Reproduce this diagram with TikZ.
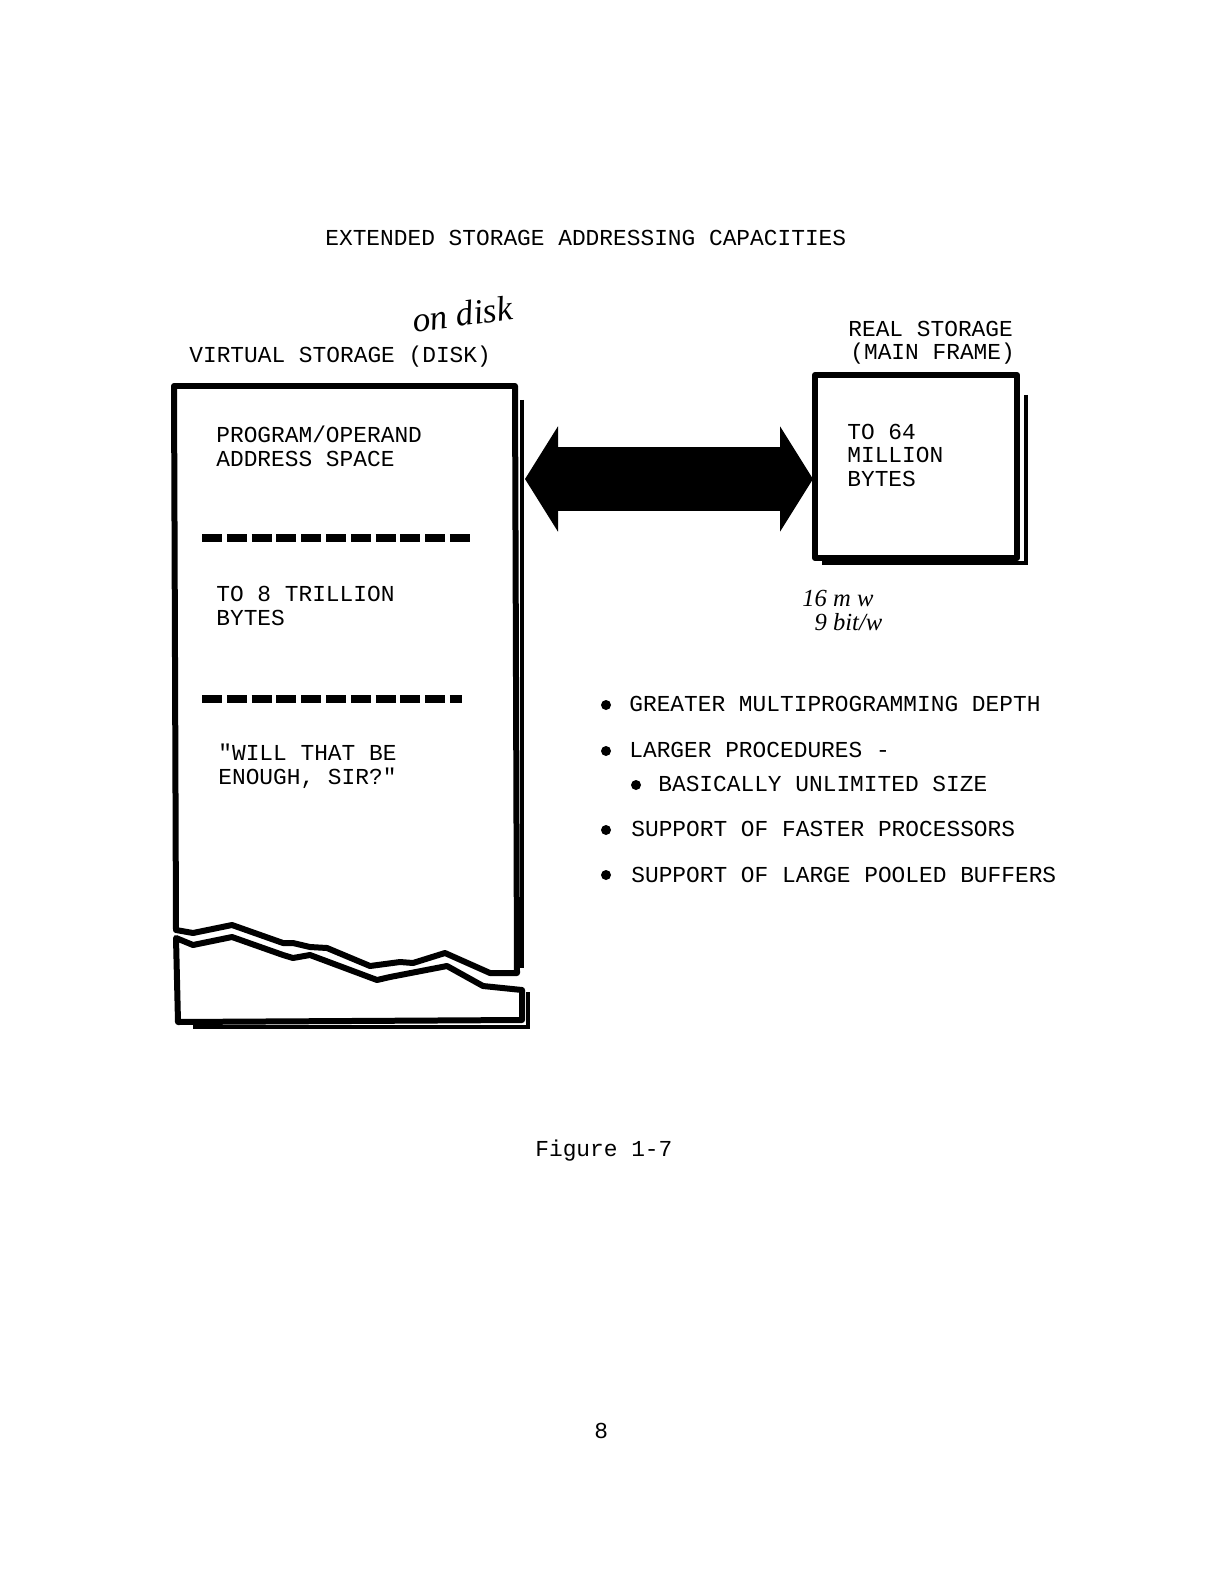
\documentclass[tikz,border=0pt]{standalone}
\usepackage{fontspec}
\setmonofont{Liberation Mono}
\newfontfamily\handfont{Liberation Serif}
\usetikzlibrary{arrows.meta}

\begin{document}
\begin{tikzpicture}[x=0.02cm, y=-0.02cm,
    every node/.style={font=\ttfamily\fontsize{13}{13.1}\selectfont, inner sep=0pt, anchor=base west, align=left},
    hand/.style={font=\handfont\itshape\fontsize{14}{13.5}\selectfont},
    boxline/.style={line width=0.12cm, line join=round},
    shadow/.style={line width=0.08cm},
    cutline/.style={line width=0.16cm, dash pattern=on 0.4cm off 0.096cm},
    dot/.style={radius=0.1cm}]
  \useasboundingbox (0,0) rectangle (1224,1584);
  \node (title) at (325,246) {EXTENDED STORAGE ADDRESSING CAPACITIES};

  % virtual storage, torn at the bottom
  \node (vlabel) at (189,363) {VIRTUAL STORAGE (DISK)};
  \node[hand, font=\handfont\itshape\fontsize{20}{20}\selectfont, rotate=8] (ondisk) at (414,333) {on disk};
  \draw[boxline] (515,386) -- (174,386) -- (176,930) -- (193,933) -- (232,925) -- (283,943) -- (293,943)
    -- (310,947) -- (327,948) -- (370,966) -- (400,962) -- (413,963) -- (445,953) -- (490,973) -- (517,973) -- cycle;
  \draw[boxline] (176,938) -- (193,945) -- (232,937) -- (283,955) -- (293,958) -- (310,955) -- (377,980)
    -- (390,977) -- (447,966) -- (483,986) -- (522,990) -- (522,1020) -- (178,1022) -- cycle;
  \draw[shadow] (522,400) -- (522,968);
  \draw[shadow] (193,1027) -- (528,1027) -- (528,992);
  \node (prog) at (216,466) {PROGRAM/OPERAND\\ADDRESS SPACE};
  \draw[cutline] (202,538) -- (470,538);
  \node (trillion) at (216,625) {TO 8 TRILLION\\BYTES};
  \draw[cutline] (202,699) -- (462,699);
  \node (enough) at (218,784) {"WILL THAT BE\\ENOUGH, SIR?"};
  \coordinate (vs) at (525,479);

  % real storage
  \node (rlabel) at (848,360) {REAL STORAGE\\\hspace{0.04cm}(MAIN FRAME)};
  \draw[boxline] (815,375) rectangle (1017,558);
  \draw[shadow] (1026,395) -- (1026,563) -- (822,563);
  \node (million) at (847,486) {TO 64\\MILLION\\BYTES};
  \coordinate (rs) at (813,479);
  \node[hand] (words) at (802,630) {16 m w\\\ \ 9 bit/w};

  \draw[line width=1.3cm, {Triangle[length=0.66cm, width=2.08cm]}-{Triangle[length=0.66cm, width=2.08cm]}] (vs) -- (rs);

  % benefits
  \fill (606,705) circle[dot];
  \node (b1) at (629,711) {GREATER MULTIPROGRAMMING DEPTH};
  \fill (606,751) circle[dot];
  \node (b2) at (629,757) {LARGER PROCEDURES -};
  \fill (636,785) circle[dot];
  \node (b2a) at (658,791) {BASICALLY UNLIMITED SIZE};
  \fill (606,830) circle[dot];
  \node (b3) at (631,836) {SUPPORT OF FASTER PROCESSORS};
  \fill (606,875) circle[dot];
  \node (b4) at (631,882) {SUPPORT OF LARGE POOLED BUFFERS};

  \node (fig) at (535,1156) {Figure 1-7};
  \node (page) at (594,1438) {8};
\end{tikzpicture}
\end{document}
